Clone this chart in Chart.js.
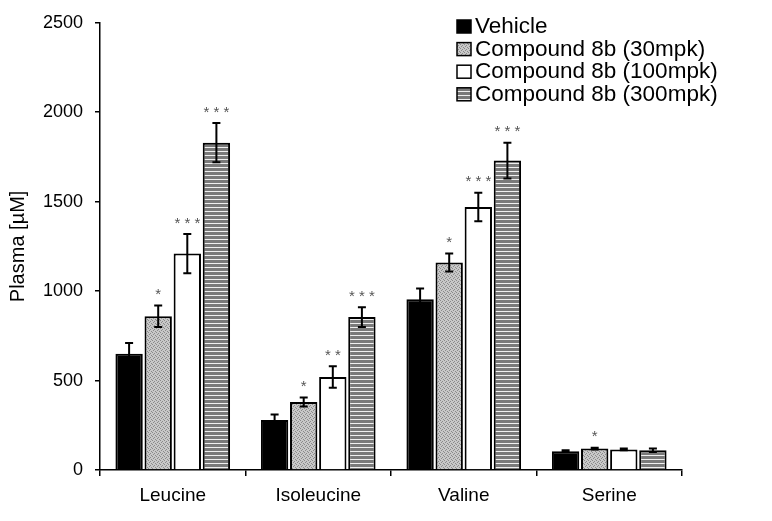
<!DOCTYPE html>
<html>
<head>
<meta charset="utf-8">
<script src="https://cdn.jsdelivr.net/npm/chart.js@4"></script>
<style>
  body { margin: 0; background: #fff; }
  #wrap { width: 772px; height: 521px; position: relative; }
</style>
</head>
<body>
<div id="wrap"><canvas id="plasmaChart" width="772" height="521"></canvas></div>
<script>
// data
const categories = ['Leucine', 'Isoleucine', 'Valine', 'Serine'];
const seriesNames = ['Vehicle', 'Compound 8b (30mpk)', 'Compound 8b (100mpk)', 'Compound 8b (300mpk)'];
const vehicle = [650, 280, 955, 105];
const mpk30 = [860, 380, 1160, 120];
const mpk100 = [1210, 520, 1470, 115];
const mpk300 = [1830, 855, 1730, 110];
const errVehicle = [60, 30, 60, 5];
const err30 = [60, 25, 50, 5];
const err100 = [110, 60, 80, 5];
const err300 = [110, 55, 100, 10];
const starsVehicle = ['', '', '', ''];
const stars30 = ['*', '*', '*', '*'];
const stars100 = ['***', '**', '***', ''];
const stars300 = ['***', '***', '***', ''];
const yTicks = [0, 500, 1000, 1500, 2000, 2500];

const FONT = '"Liberation Sans", Arial, sans-serif';

function makePattern(kind) {
    const c = document.createElement('canvas');
    const g = c.getContext('2d');
    if (kind === 'dots') {
        c.width = 4; c.height = 4;
        g.fillStyle = '#c8c8c8';
        g.fillRect(0, 0, 4, 4);
        g.fillStyle = '#8a8a8a';
        g.fillRect(0, 0, 1, 1); g.fillRect(2, 1, 1, 1);
        g.fillRect(1, 2, 1, 1); g.fillRect(3, 3, 1, 1);
    } else if (kind === 'stripes') {
        c.width = 4; c.height = 4;
        g.fillStyle = '#7a7a7a';
        g.fillRect(0, 0, 4, 4);
        g.fillStyle = '#f0f0f0';
        g.fillRect(0, 3, 4, 1);
    } else {
        c.width = 1; c.height = 1;
        g.fillStyle = '#fff';
        g.fillRect(0, 0, 1, 1);
    }
    return g.createPattern(c, 'repeat');
}

const fills = ['#000', makePattern('dots'), '#ffffff', makePattern('stripes')];
const values = [vehicle, mpk30, mpk100, mpk300];
const errors = [errVehicle, err30, err100, err300];
const stars = [starsVehicle, stars30, stars100, stars300];

// error bars, significance stars and legend
const extras = {
    id: 'extras',
    afterDatasetsDraw(chart) {
        const ctx = chart.ctx;
        const y = chart.scales.y;
        ctx.save();
        chart.data.datasets.forEach((ds, i) => {
            const meta = chart.getDatasetMeta(i);
            meta.data.forEach((bar, j) => {
                const v = values[i][j], e = errors[i][j];
                const x = bar.x;
                const top = y.getPixelForValue(v + e);
                const bot = y.getPixelForValue(v - e);
                ctx.strokeStyle = '#000';
                ctx.lineWidth = 2;
                ctx.beginPath();
                ctx.moveTo(x, top); ctx.lineTo(x, bot);
                ctx.moveTo(x - 4, top); ctx.lineTo(x + 4, top);
                ctx.moveTo(x - 4, bot); ctx.lineTo(x + 4, bot);
                ctx.stroke();
                if (stars[i][j]) {
                    ctx.fillStyle = '#555';
                    ctx.font = '15px ' + FONT;
                    ctx.textAlign = 'center';
                    ctx.textBaseline = 'bottom';
                    ctx.fillText(stars[i][j].split('').join(' '), x, top - 3);
                }
            });
        });
        // legend
        const lx = 457, ly = 33, step = 22.6;
        seriesNames.forEach((name, i) => {
            const yy = ly + i * step;
            ctx.fillStyle = fills[i];
            ctx.fillRect(lx, yy - 13, 14, 13);
            ctx.strokeStyle = '#000';
            ctx.lineWidth = 1.5;
            ctx.strokeRect(lx, yy - 13, 14, 13);
            ctx.fillStyle = '#000';
            ctx.font = '22.5px ' + FONT;
            ctx.textAlign = 'left';
            ctx.textBaseline = 'alphabetic';
            ctx.fillText(name, lx + 18, yy);
        });
        ctx.restore();
    }
};

new Chart(document.getElementById('plasmaChart'), {
    type: 'bar',
    data: {
        labels: categories,
        datasets: seriesNames.map((name, i) => ({
            label: name,
            data: values[i],
            backgroundColor: fills[i],
            borderColor: '#000',
            borderWidth: 2,
            barPercentage: 0.94,
            categoryPercentage: 0.8
        }))
    },
    options: {
        responsive: false,
        animation: false,
        layout: { padding: { left: 0, top: 22, right: 90, bottom: 0 } },
        plugins: { legend: { display: false }, tooltip: { enabled: false } },
        scales: {
            x: {
                grid: { drawOnChartArea: false, drawTicks: true, tickLength: 6, color: '#000', lineWidth: 1.5 },
                border: { color: '#000', width: 1.5 },
                ticks: { color: '#000', font: { family: FONT, size: 19 }, padding: 8 },
                afterFit(s) { s.height = 51; }
            },
            y: {
                min: 0, max: 2500,
                afterBuildTicks(s) { s.ticks = yTicks.map(v => ({ value: v })); },
                grid: { drawOnChartArea: false, drawTicks: true, tickLength: 5, color: '#000', lineWidth: 1.5 },
                border: { color: '#000', width: 1.5 },
                ticks: { color: '#000', font: { family: FONT, size: 18 }, padding: 12, callback: v => String(v) },
                title: { display: true, text: 'Plasma [µM]', color: '#000', font: { family: FONT, size: 20 }, padding: { top: 6, bottom: 0 } },
                afterFit(s) { s.width = 100; }
            }
        }
    },
    plugins: [extras]
});
</script>
</body>
</html>
